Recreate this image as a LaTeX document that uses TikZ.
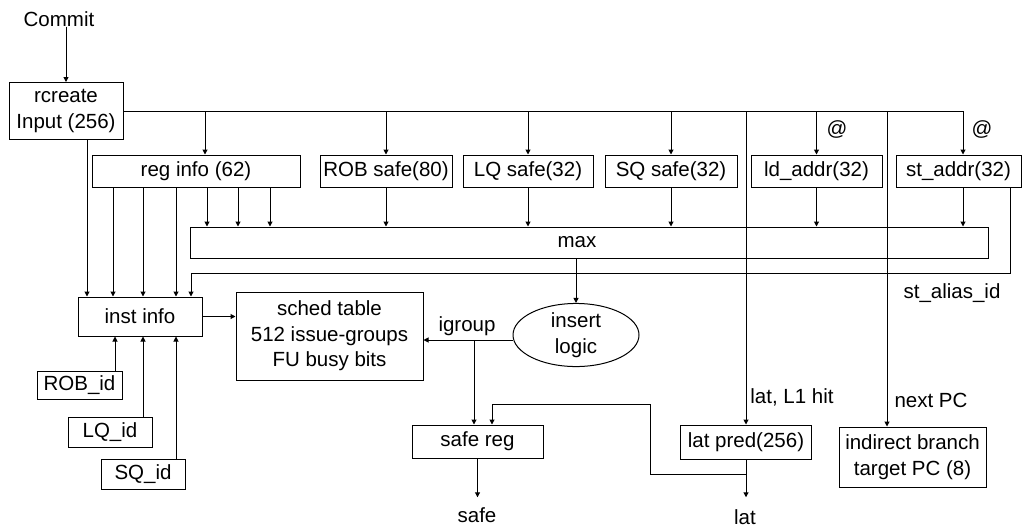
\documentclass[tikz,border=0pt]{standalone}
\usepackage{fontspec}
\setmainfont{Liberation Sans}
\usetikzlibrary{shapes.geometric,arrows.meta,calc}
\begin{document}
\begin{tikzpicture}[x=1pt,y=-1pt,
  every node/.style={font=\fontsize{20.5}{25.5}\selectfont, inner sep=0pt},
  box/.style={draw, line width=1pt, align=center},
  conn/.style={line width=1pt},
  arr/.style={conn, -{Triangle[length=5pt,width=5pt]}}]
\useasboundingbox (0,0) rectangle (1022,528);

% ---- blocks ----
\node (commit) at (59,19) {Commit};
\node[box, minimum width=114pt, minimum height=57pt] (rc) at (66,111) {rcreate\\Input (256)};

\node[box, minimum width=208pt, minimum height=32pt] (reg) at (196,171) {reg info (62)};
\node[box, minimum width=132pt, minimum height=32pt] (rob) at (386,171) {ROB safe(80)};
\node[box, minimum width=130pt, minimum height=32pt] (lq)  at (528,171) {LQ safe(32)};
\node[box, minimum width=132pt, minimum height=32pt] (sq)  at (671,171) {SQ safe(32)};
\node[box, minimum width=131pt, minimum height=32pt] (lda) at (816.5,171) {ld\_addr(32)};
\node[box, minimum width=125pt, minimum height=32pt] (sta) at (958.5,171) {st\_addr(32)};

\node[box, minimum width=798pt, minimum height=31pt] (max) at (589,242.5) {};
\node (maxlbl) at (577,242) {max};

\node[box, minimum width=124pt, minimum height=39pt] (inst) at (140,316.5) {inst info};
\node[box, minimum width=187pt, minimum height=88pt] (sched) at (329.5,336) {sched table\\512 issue-groups\\FU busy bits};
\node[draw, ellipse, line width=1pt, align=center, minimum width=126pt, minimum height=58pt] (ins) at (576,335) {insert\\logic};

\node[box, minimum width=131pt, minimum height=33pt] (safe) at (477.5,441.5) {safe reg};
\node[box, minimum width=131pt, minimum height=34pt] (lat) at (746,442) {lat pred(256)};
\node[box, minimum width=147pt, minimum height=60pt] (ind) at (912.5,457) {indirect branch\\target PC (8)};

\node[box, minimum width=85pt, minimum height=28pt] (robid) at (79.5,385) {ROB\_id};
\node[box, minimum width=84pt, minimum height=30pt] (lqid) at (110,432) {LQ\_id};
\node[box, minimum width=84pt, minimum height=30pt] (sqid) at (143,474) {SQ\_id};

% ---- labels ----
\node (at1) at (837,129) {@};
\node (at2) at (982,129) {@};
\node (alias) at (952,293) {st\_alias\_id};
\node (igroup) at (467,326) {igroup};
\node (l1hit) at (792,397) {lat, L1 hit};
\node (npc) at (931,400) {next PC};
\node (safeout) at (477,515) {safe};
\node (latout) at (745,517) {lat};

% ---- routing points ----
\coordinate (busend) at (963,111);
\coordinate (aliasturn) at (191,273);
\coordinate (igsplit) at (474,340);
\coordinate (fbsplit) at (746,474);
\coordinate (fbturn) at (650,404);

% ---- input bus from rcreate ----
\draw[arr] (commit.south -| rc.north) -- (rc.north);
\draw[conn] (rc.east) -- (busend);
\draw[arr] (busend) -- (busend |- sta.north);
\draw[arr] (rc.east -| reg.north) ++(9,0) -- ([xshift=9pt]reg.north);
\foreach \n in {rob,lq,sq,lda}
  \draw[arr] (rc.east -| \n.north) -- (\n.north);
\draw[arr] (rc.east -| lat.north) -- (lat.north);
\draw[arr] (rc.east -| ind.north) ++(-25.5,0) -- ([xshift=-25.5pt]ind.north);
\draw[arr] ([xshift=21pt]rc.south) -- ([xshift=21pt]rc.south |- inst.north);

% ---- reg info outputs ----
\foreach \dx in {-83,-53,-20}
  \draw[arr] ([xshift=\dx pt]reg.south) -- ([xshift=\dx pt]reg.south |- inst.north);
\foreach \dx in {11,42,74}
  \draw[arr] ([xshift=\dx pt]reg.south) -- ([xshift=\dx pt]reg.south |- max.north);

% ---- safety tables into max ----
\foreach \n in {rob,lq,sq,lda}
  \draw[arr] (\n.south) -- (\n.south |- max.north);
\draw[arr] ([xshift=4.5pt]sta.south) -- ([xshift=4.5pt]sta.south |- max.north);

% ---- store alias id back to inst info ----
\draw[arr] ([xshift=51.5pt]sta.south) |- (aliasturn) -- (aliasturn |- inst.north);

% ---- max to insert logic to sched table ----
\draw[arr] (max.south -| ins.north) -- (ins.north);
\draw[arr] (inst.east) -- (inst.east -| sched.west);
\draw[arr] ([yshift=-5pt]ins.west) -- ([yshift=-5pt]ins.west -| sched.east);
\draw[arr] (igsplit) -- (igsplit |- safe.north);

% ---- id sources ----
\draw[arr] ([xshift=35.5pt]robid.north) -- ([xshift=35.5pt]robid.north |- inst.south);
\draw[arr] ([xshift=33pt]lqid.north) -- ([xshift=33pt]lqid.north |- inst.south);
\draw[arr] ([xshift=33pt]sqid.north) -- ([xshift=33pt]sqid.north |- inst.south);

% ---- outputs ----
\draw[arr] (safe.south) -- ([yshift=10pt]safe.south |- safeout.north);
\draw[arr] (lat.south) -- ([yshift=12pt]lat.south |- latout.north);
\draw[arr] (fbsplit) -| (fbturn) -| ([xshift=14.5pt]safe.north);
\end{tikzpicture}
\end{document}
